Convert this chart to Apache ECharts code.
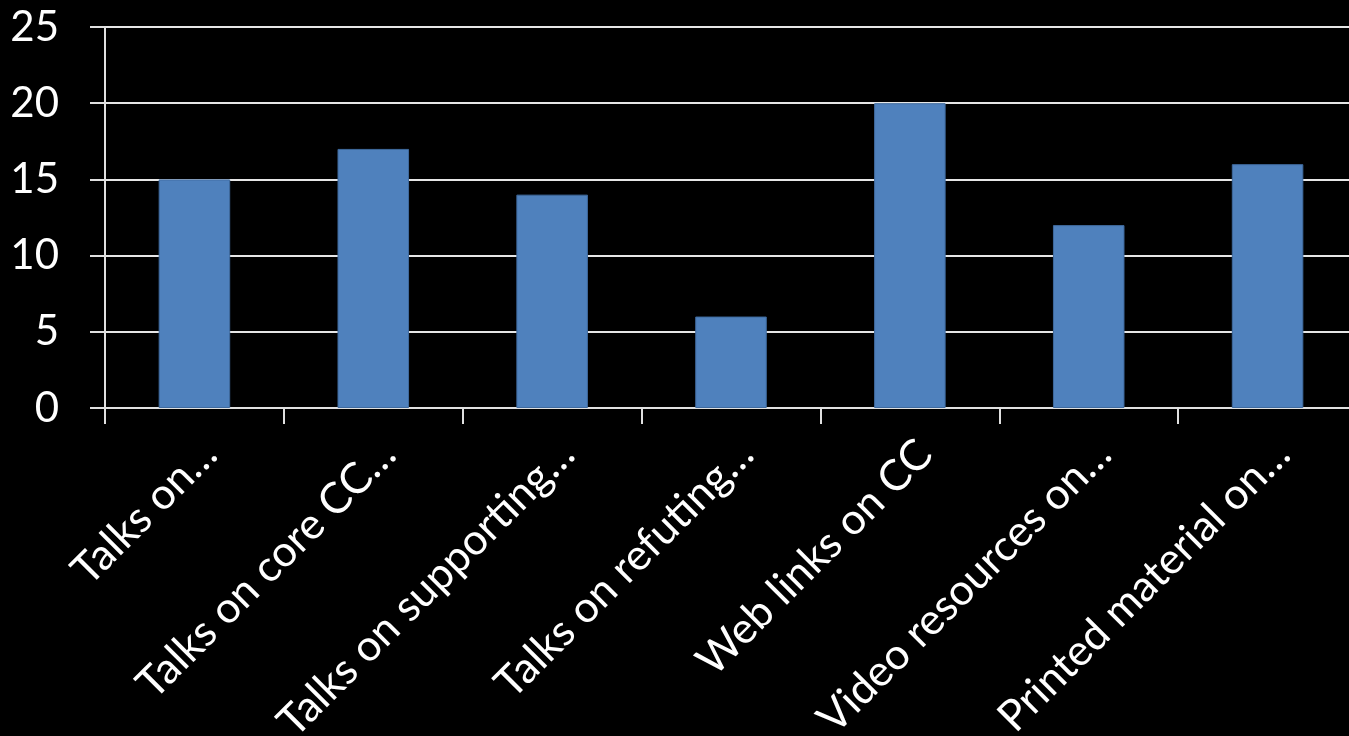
<!DOCTYPE html>
<html>
<head>
<meta charset="utf-8">
<script src="https://cdn.jsdelivr.net/npm/echarts@6/dist/echarts.min.js"></script>
<style>
html, body { margin: 0; padding: 0; background: #000; }
#chart { width: 1349px; height: 736px; }
</style>
</head>
<body>
<div id="chart"></div>
<script>
const categories = [
  'Talks on…',
  'Talks on core CC…',
  'Talks on supporting…',
  'Talks on refuting…',
  'Web links on CC',
  'Video resources on…',
  'Printed material on…'
];
const counts = [15, 17, 14, 6, 20, 12, 16];
const yTicks = { min: 0, max: 25, interval: 5 };

const fontFamily = 'Lato, "Open Sans", sans-serif';
const chart = echarts.init(document.getElementById('chart'), null, { renderer: 'canvas' });
chart.setOption({
  backgroundColor: '#000000',
  animation: false,
  grid: {
    left: 105, top: 27, width: 1252, height: 381,
    containLabel: false, outerBoundsMode: 'none'
  },
  xAxis: {
    type: 'category',
    data: categories,
    axisLine: { lineStyle: { color: '#e0e0e0', width: 2 } },
    axisTick: { show: true, length: 16, lineStyle: { color: '#e0e0e0', width: 2 } },
    axisLabel: {
      color: '#ffffff',
      fontSize: 43,
      fontFamily: fontFamily,
      rotate: 45,
      margin: 24,
      verticalAlign: 'top',
      interval: 0
    },
    splitLine: { show: false }
  },
  yAxis: {
    type: 'value',
    min: yTicks.min,
    max: yTicks.max,
    interval: yTicks.interval,
    axisLine: { show: true, lineStyle: { color: '#e0e0e0', width: 2 } },
    axisTick: { show: true, length: 15, lineStyle: { color: '#e0e0e0', width: 2 } },
    axisLabel: {
      color: '#ffffff',
      fontSize: 42,
      fontFamily: fontFamily,
      margin: 46
    },
    splitLine: { show: true, lineStyle: { color: '#e6e6e6', width: 2 } }
  },
  series: [{
    type: 'bar',
    data: counts,
    barWidth: '40%',
    itemStyle: { color: '#4F81BD', borderColor: '#3f6a9e', borderWidth: 1 }
  }]
});
</script>
</body>
</html>
